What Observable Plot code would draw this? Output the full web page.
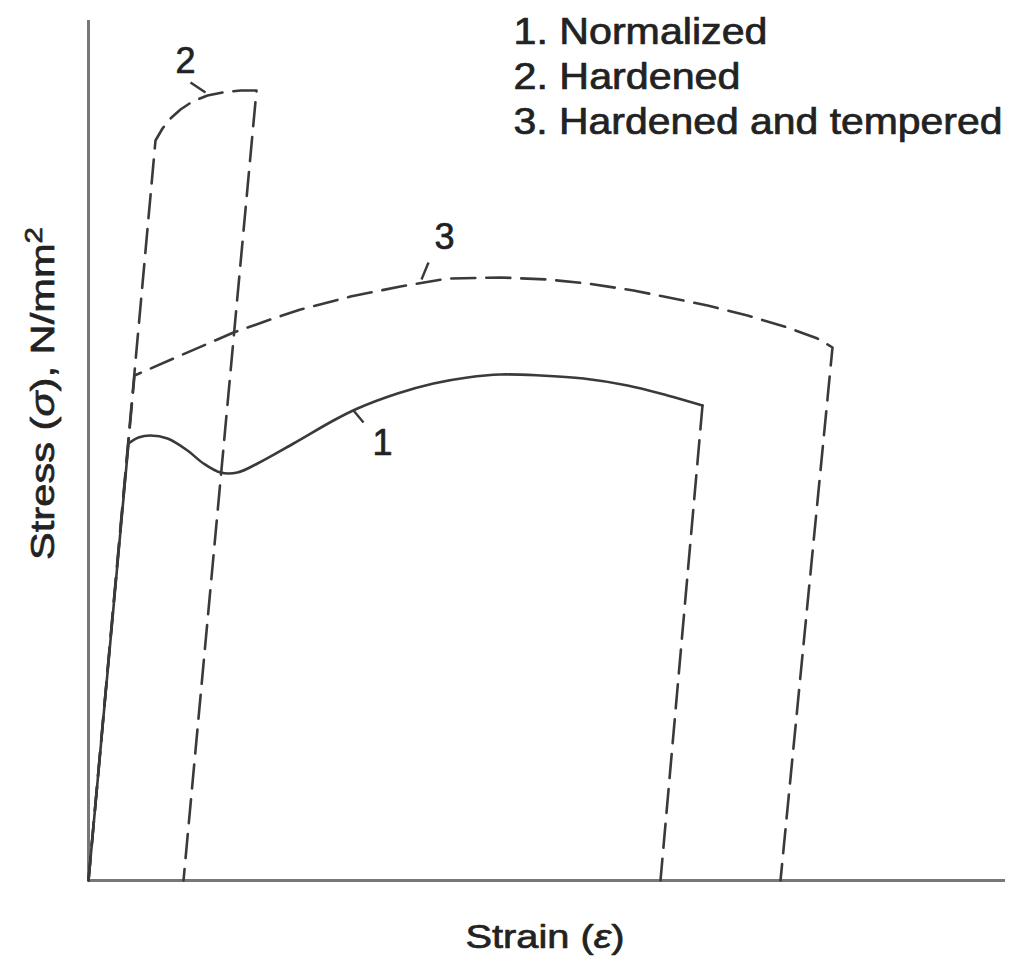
<!DOCTYPE html>
<html>
<head>
<meta charset="utf-8">
<script src="https://cdn.jsdelivr.net/npm/d3@7"></script>
<script src="https://cdn.jsdelivr.net/npm/@observablehq/plot@0.6"></script>
<style>
  html, body { margin: 0; padding: 0; background: #fff; }
  #chart { width: 1015px; height: 960px; }
</style>
</head>
<body>
<div id="chart"></div>
<script>
// ---- Data (relative units; strain → x, stress → y) ----
// Curve 1: Normalized — elastic line, yield/hardening curve (solid), elastic unloading (dashed)
const normElasticStrain = [0, 40];
const normElasticStress = [0, 437];
const normStrain = [40, 50, 62, 79, 99, 115, 132, 149, 169, 205, 245, 269, 309, 345, 379, 412, 452, 495, 539, 579, 614];
const normStress = [437, 443, 445, 442, 430, 417, 408, 408, 417, 437, 460, 472, 487, 497, 503, 506, 505, 502, 495, 485, 475];
const normUnloadStrain = [614, 572];
const normUnloadStress = [475, 0];

// Curve 2: Hardened (dashed)
const hardStrain = [0, 67, 74, 82, 92, 104, 119, 134, 152, 168, 95];
const hardStress = [0, 740, 752, 762, 771, 779, 785, 788, 790, 790, 0];

// Curve 3: Hardened and tempered (dashed)
const tempStrain = [0, 46, 92, 145, 179, 212, 262, 312, 359, 412, 459, 499, 545, 585, 619, 659, 699, 729, 744, 692];
const tempStress = [0, 505, 525, 548, 560, 571, 584, 594, 602, 603, 601, 597, 590, 582, 575, 565, 553, 542, 533, 0];

// Curve number labels and their leader ticks
const curveLabels = ["1", "2", "3"];
const labelStrain = [294, 97, 356];
const labelStress = [437, 819, 643];
const leaderStrain1 = [265, 102, 340];
const leaderStress1 = [470, 798, 618];
const leaderStrain2 = [275, 117, 333];
const leaderStress2 = [458, 788, 601];

// Legend text
const legendLabels = ["1. Normalized", "2. Hardened", "3. Hardened and tempered"];
const legendStrain = [425, 425, 425];
const legendStress = [837, 792, 747];

const xLabel = "Strain (ε)";
const yLabel = "Stress (σ), N/mm²";

// ---- Build tables ----
const toPts = (xs, ys) => xs.map((x, i) => ({x, y: ys[i]}));
const normElastic = toPts(normElasticStrain, normElasticStress);
const norm = toPts(normStrain, normStress);
const normUnload = toPts(normUnloadStrain, normUnloadStress);
const hard = toPts(hardStrain, hardStress);
const temp = toPts(tempStrain, tempStress);
const labels = curveLabels.map((t, i) => ({t, x: labelStrain[i], y: labelStress[i]}));
const leaders = curveLabels.map((t, i) => ({x1: leaderStrain1[i], y1: leaderStress1[i], x2: leaderStrain2[i], y2: leaderStress2[i]}));
const legend = legendLabels.map((t, i) => ({t, x: legendStrain[i], y: legendStress[i]}));

const font = "'Liberation Sans', Arial, Helvetica, sans-serif";
const ink = "#3a3a3a";
const textInk = "#222";
const dash = "24,11";
const textBold = {fill: textInk, stroke: textInk, strokeWidth: 0.7, paintOrder: "stroke"};

const chart = Plot.plot({
  width: 1015,
  height: 960,
  marginLeft: 88,
  marginRight: 10,
  marginTop: 20,
  marginBottom: 80,
  style: {fontFamily: font, background: "#fff"},
  x: {domain: [0, 917], axis: null},
  y: {domain: [0, 860], axis: null},
  marks: [
    Plot.ruleX([0], {stroke: "#777", strokeWidth: 3}),
    Plot.ruleY([0], {stroke: "#777", strokeWidth: 3}),
    Plot.line(hard, {x: "x", y: "y", stroke: ink, strokeWidth: 2.6, strokeDasharray: dash, curve: "linear"}),
    Plot.line(temp, {x: "x", y: "y", stroke: ink, strokeWidth: 2.6, strokeDasharray: dash, curve: "linear"}),
    Plot.line(normUnload, {x: "x", y: "y", stroke: ink, strokeWidth: 2.6, strokeDasharray: dash}),
    Plot.line(normElastic, {x: "x", y: "y", stroke: ink, strokeWidth: 2.6}),
    Plot.line(norm, {x: "x", y: "y", stroke: ink, strokeWidth: 2.6, curve: "catmull-rom"}),
    Plot.link(leaders, {x1: "x1", y1: "y1", x2: "x2", y2: "y2", stroke: ink, strokeWidth: 2.4}),
    Plot.text(labels, {x: "x", y: "y", text: "t", fontSize: 36, ...textBold, textAnchor: "middle", lineAnchor: "middle"}),
    Plot.text(legend, {x: "x", y: "y", text: "t", fontSize: 36, ...textBold, textAnchor: "start", lineAnchor: "bottom"}),
    Plot.text([xLabel], {frameAnchor: "bottom", dy: 67, dx: -2, text: d => d, fontSize: 34, ...textBold, textAnchor: "middle", lineAnchor: "bottom"}),
    Plot.text([yLabel], {frameAnchor: "left", dx: -35, dy: -57, rotate: -90, text: d => d, fontSize: 34, ...textBold, textAnchor: "middle", lineAnchor: "bottom"})
  ]
});

document.getElementById("chart").appendChild(chart);

// Stretch text to match the wide typeface of the reference, italicise Greek symbols
const targetWidth = {
  "1. Normalized": 254,
  "2. Hardened": 227,
  "3. Hardened and tempered": 489,
  "Strain (ε)": 159,
  "Stress (σ), N/mm²": 333
};
d3.select(chart).selectAll("text").each(function() {
  const el = d3.select(this);
  const s = el.text();
  if (targetWidth[s]) {
    el.attr("textLength", targetWidth[s]).attr("lengthAdjust", "spacingAndGlyphs");
  }
  const m = s.match(/^(.*\()([σε])(\)[^²]*)(²?)$/);
  if (m) {
    el.text(null);
    el.append("tspan").text(m[1]);
    el.append("tspan").attr("font-style", "italic").text(m[2]);
    el.append("tspan").text(m[3]);
    if (m[4]) {
      el.append("tspan").attr("font-size", 24).attr("dy", -12).text("2");
    }
  }
});
</script>
</body>
</html>
